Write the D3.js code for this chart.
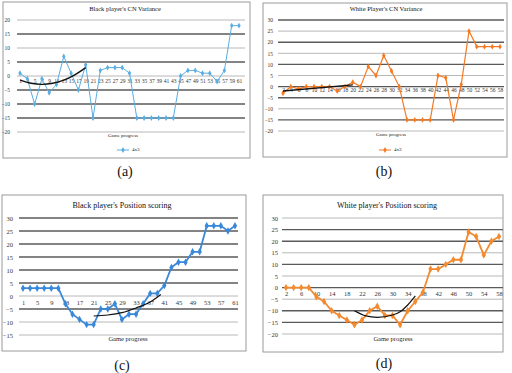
<!DOCTYPE html>
<html>
<head>
<meta charset="utf-8">
<script src="https://cdn.jsdelivr.net/npm/d3@7"></script>
<style>
  body { margin: 0; background: #fff; }
  svg text { font-family: "Liberation Serif", "DejaVu Serif", serif; }
</style>
</head>
<body>
<svg id="chart" width="512" height="373"></svg>
<script>
// ---- data ----
const oddMoves = [1,3,5,7,9,11,13,15,17,19,21,23,25,27,29,31,33,35,37,39,41,43,45,47,49,51,53,55,57,59,61];
const evenMoves = [2,4,6,8,10,12,14,16,18,20,22,24,26,28,30,32,34,36,38,40,42,44,46,48,50,52,54,56,58];

const blackCnValues = [1,-1,-10,-1,-6,-3,7,1,-5,4,-15,2,3,3,3,1,-15,-15,-15,-15,-15,-15,0,2,2,1,1,-2,2,18,18];
const whiteCnValues = [-3,0,-1,0,0,0,0,-2,0,2,0,9,5,14,7,0,-15,-15,-15,-15,5,4,-15,1,25,18,18,18,18];
const blackPosValues = [3,3,3,3,3,3,-3,-7,-9,-11,-11,-5,-5,-3,-9,-7,-7,-3,1,1,4,11,13,13,17,17,27,27,27,25,27];
const whitePosValues = [0,0,0,0,-4,-6,-10,-12,-14,-16,-14,-10,-8,-12,-12,-16,-10,-6,-2,8,8,10,12,12,24,22,14,20,22];

// black trend curves drawn over part of each game
const blackCnTrend = [[1,-1.5],[4,-2.6],[7,-3],[10,-2.6],[13,-1.5],[16,0.4],[19,3]];
const whiteCnTrend = [[2,-2],[20,0.8]];
const blackPosTrend = [[21,-7.7],[25,-7.3],[29,-6.4],[33,-4.6],[37,-2.3],[40,0.6]];
const whitePosTrend = [[20,-10],[23,-12.2],[26,-12.8],[30,-11.8],[32,-10.4],[34,-7.5],[36,-3.6]];

// tick labels
const blackCnXTicks = oddMoves;
const whiteCnXTicks = evenMoves;
const blackPosXTicks = [1,5,9,13,17,21,25,29,33,37,41,45,49,53,57,61];
const whitePosXTicks = [2,6,10,14,18,22,26,30,34,38,42,46,50,54,58];
const blackCnYTicks = [-20,-15,-10,-5,0,5,10,15,20];
const whiteCnYTicks = [-20,-15,-10,-5,0,5,10,15,20,25,30];
const blackPosYTicks = [-15,-10,-5,0,5,10,15,20,25,30];
const whitePosYTicks = [-20,-15,-10,-5,0,5,10,15,20,25,30];

const serif = '"Liberation Serif", "DejaVu Serif", serif';
const svg = d3.select("#chart");

function drawPanel(p) {
    const g = svg.append("g");

    // frame
    g.append("rect")
        .attr("x", p.box[0]).attr("y", p.box[1])
        .attr("width", p.box[2]).attr("height", p.box[3])
        .attr("fill", "none")
        .attr("stroke", "#9a9a9a")
        .attr("stroke-width", 1);

    const x = d3.scaleLinear()
        .domain([p.moves[0], p.moves[p.moves.length - 1]])
        .range(p.xr);
    const y = d3.scaleLinear()
        .domain(d3.extent(p.yTicks))
        .range(p.yr);

    // gridlines
    g.selectAll(".grid")
        .data(p.yTicks)
        .join("line")
        .attr("x1", p.gridX[0]).attr("x2", p.gridX[1])
        .attr("y1", d => y(d)).attr("y2", d => y(d))
        .attr("stroke", d => p.darkGrid.includes(d) ? "#5a5a5a" : "#b8b8b8")
        .attr("stroke-width", d => p.darkGrid.includes(d) ? 1.4 : 1);

    // y labels
    const yAxis = g.append("g")
        .attr("transform", `translate(${p.yLabelX},0)`)
        .call(d3.axisLeft(y).tickValues(p.yTicks).tickSize(0).tickPadding(0));
    yAxis.select(".domain").remove();
    yAxis.attr("font-family", serif).attr("font-size", p.tickFont);
    yAxis.selectAll("text").attr("fill", "#333").style("font-family", serif);

    // x labels, hung under the zero line
    const xAxis = g.append("g")
        .attr("transform", `translate(0,${y(0)})`)
        .call(d3.axisBottom(x).tickValues(p.xTicks).tickSize(0).tickPadding(p.xPad));
    xAxis.select(".domain").remove();
    xAxis.attr("font-family", serif).attr("font-size", p.tickFont);
    xAxis.selectAll("text").attr("fill", "#333").style("font-family", serif);

    // series
    const line = d3.line()
        .x((d, i) => x(p.moves[i]))
        .y(d => y(d));
    g.append("path")
        .datum(p.values)
        .attr("d", line)
        .attr("fill", "none")
        .attr("stroke", p.color)
        .attr("stroke-width", p.lineWidth);

    g.selectAll(".pt")
        .data(p.values)
        .join("path")
        .attr("transform", (d, i) => `translate(${x(p.moves[i])},${y(d)})`)
        .attr("d", d3.symbol(d3.symbolDiamond, p.markSize))
        .attr("fill", p.color);

    // trend
    g.append("path")
        .datum(p.trend)
        .attr("d", d3.line().x(d => x(d[0])).y(d => y(d[1])).curve(d3.curveMonotoneX))
        .attr("fill", "none")
        .attr("stroke", "#111")
        .attr("stroke-width", p.trendWidth);

    // texts
    g.append("text")
        .attr("x", p.title[0]).attr("y", p.title[1])
        .attr("text-anchor", "middle").attr("dominant-baseline", "middle")
        .attr("font-size", p.titleFont)
        .attr("fill", "#111")
        .text(p.titleText);

    g.append("text")
        .attr("x", p.xTitle[0]).attr("y", p.xTitle[1])
        .attr("text-anchor", "middle").attr("dominant-baseline", "middle")
        .attr("font-size", p.xTitleFont)
        .attr("fill", "#222")
        .text("Game progress");

    if (p.legend) {
        const lg = g.append("g").attr("transform", `translate(${p.legend[0]},${p.legend[1]})`);
        lg.append("line").attr("x1", 0).attr("x2", 12).attr("stroke", p.color).attr("stroke-width", 1);
        lg.append("path").attr("transform", "translate(6,0)")
            .attr("d", d3.symbol(d3.symbolDiamond, p.markSize)).attr("fill", p.color);
        lg.append("text").attr("x", 15).attr("dominant-baseline", "middle")
            .attr("font-size", p.xTitleFont).attr("fill", "#222").text("4x3");
    }

    svg.append("text")
        .attr("x", p.caption[0]).attr("y", p.caption[1])
        .attr("text-anchor", "middle").attr("dominant-baseline", "middle")
        .attr("font-size", 14)
        .attr("fill", "#111")
        .text(p.captionText);
}

drawPanel({
    moves: oddMoves, values: blackCnValues, trend: blackCnTrend,
    xTicks: blackCnXTicks, yTicks: blackCnYTicks,
    box: [3, 2, 247, 156], xr: [20, 239], yr: [132, 20], gridX: [17, 245],
    yLabelX: 10, xPad: 3, darkGrid: [15, 5, -15, -10, -5],
    color: "#5aaee2", lineWidth: 1, markSize: 10, trendWidth: 1.4,
    tickFont: 5.5, titleFont: 6.5, xTitleFont: 5,
    title: [125, 10], titleText: "Black player's CN Variance",
    xTitle: [123, 136], legend: [117, 150],
    caption: [125, 173], captionText: "(a)"
});

drawPanel({
    moves: evenMoves, values: whiteCnValues, trend: whiteCnTrend,
    xTicks: whiteCnXTicks, yTicks: whiteCnYTicks,
    box: [263, 3, 244, 154], xr: [283, 500], yr: [131, 20], gridX: [278, 504],
    yLabelX: 273, xPad: 2, darkGrid: [30, 20, 10, 0, -5, -15],
    color: "#f47a22", lineWidth: 1.2, markSize: 10, trendWidth: 1.4,
    tickFont: 5.5, titleFont: 6.5, xTitleFont: 5,
    title: [386, 10], titleText: "White Player's CN Variance",
    xTitle: [391, 135], legend: [379, 150],
    caption: [384, 173], captionText: "(b)"
});

drawPanel({
    moves: oddMoves, values: blackPosValues, trend: blackPosTrend,
    xTicks: blackPosXTicks, yTicks: blackPosYTicks,
    box: [2, 195, 244, 156], xr: [23, 235], yr: [335, 218], gridX: [19, 238],
    yLabelX: 13, xPad: 4, darkGrid: [30, 25, 20, 15, 10, 5, -5],
    color: "#3a88d8", lineWidth: 1.8, markSize: 16, trendWidth: 1.2,
    tickFont: 6.5, titleFont: 8, xTitleFont: 6.5,
    title: [122, 206], titleText: "Black player's Position scoring",
    xTitle: [128, 340], legend: null,
    caption: [122, 367], captionText: "(c)"
});

drawPanel({
    moves: evenMoves, values: whitePosValues, trend: whitePosTrend,
    xTicks: whitePosXTicks, yTicks: whitePosYTicks,
    box: [263, 195, 240, 157], xr: [286, 499], yr: [334, 218], gridX: [282, 503],
    yLabelX: 278, xPad: 4, darkGrid: [25, 20, 10, 0, -10, -15],
    color: "#f28a30", lineWidth: 1.8, markSize: 16, trendWidth: 1.2,
    tickFont: 6.5, titleFont: 8, xTitleFont: 6.5,
    title: [387, 206], titleText: "White player's Position scoring",
    xTitle: [393, 340], legend: null,
    caption: [384, 365], captionText: "(d)"
});
</script>
</body>
</html>
